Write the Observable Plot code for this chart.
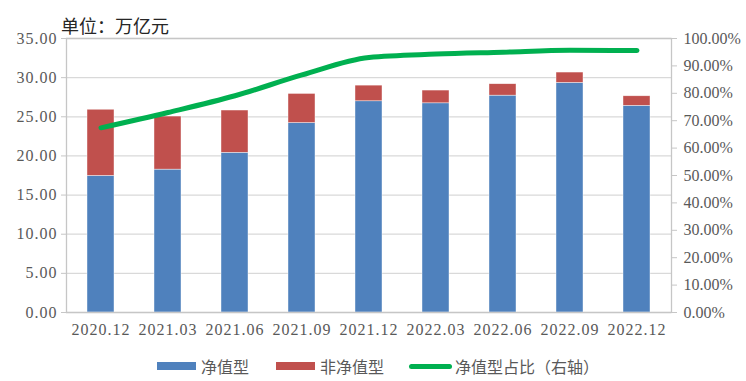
<!DOCTYPE html>
<html><head><meta charset="utf-8">
<script src="https://cdn.jsdelivr.net/npm/d3@7"></script>
<script src="https://cdn.jsdelivr.net/npm/@observablehq/plot@0.6"></script>
<style>
body{margin:0;background:#fff;width:746px;height:381px;overflow:hidden;}
#title{height:26px;box-sizing:border-box;padding-top:16px;padding-left:61px;font-size:18px;line-height:18px;color:#262626;font-family:"Noto Sans CJK SC",sans-serif;white-space:nowrap;}
#legend{position:relative;height:41px;font-family:"Noto Sans CJK SC",sans-serif;font-size:16px;color:#595959;}
#legend .sw{position:absolute;}
#legend .lb{position:absolute;top:16px;line-height:20px;white-space:nowrap;}
</style></head>
<body>
<div id="title">单位：万亿元</div>
<div id="chart"></div>
<div id="legend">
  <div class="sw" style="left:157px;top:22px;width:39px;height:8px;background:#4f81bd"></div>
  <div class="lb" style="left:201px">净值型</div>
  <div class="sw" style="left:276px;top:22px;width:39px;height:8px;background:#c0504d"></div>
  <div class="lb" style="left:320px">非净值型</div>
  <div class="sw" style="left:409px;top:23.5px;width:43px;height:5px;border-radius:3px;background:#00b050"></div>
  <div class="lb" style="left:455px">净值型占比（右轴）</div>
</div>
<script>
const categories = ["2020.12","2021.03","2021.06","2021.09","2021.12","2022.03","2022.06","2022.09","2022.12"];
const netValue = [17.45, 18.25, 20.40, 24.20, 26.98, 26.72, 27.70, 29.33, 26.40];
const nonNetValue = [8.45, 6.78, 5.40, 3.72, 2.00, 1.63, 1.46, 1.32, 1.22];
const netShare = [67.4, 73.0, 79.1, 86.7, 93.1, 94.3, 95.0, 95.7, 95.6];
const seriesNames = ["净值型", "非净值型"];
const leftTicks = [0, 5, 10, 15, 20, 25, 30, 35];
const rightTicks = [0, 10, 20, 30, 40, 50, 60, 70, 80, 90, 100];

const leftMax = 35, rightMax = 100;
const toLeft = p => p * leftMax / rightMax;

const barData = [];
categories.forEach((c, i) => {
  barData.push({cat: c, type: seriesNames[0], value: netValue[i]});
  barData.push({cat: c, type: seriesNames[1], value: nonNetValue[i]});
});
const lineData = categories.map((c, i) => ({cat: c, share: netShare[i]}));

const serifFont = "'Liberation Serif', 'DejaVu Serif', 'Times New Roman', serif";
const chart = Plot.plot({
  width: 746, height: 314,
  marginTop: 12, marginBottom: 28, marginLeft: 66, marginRight: 75,
  style: {fontSize: "16px", color: "#595959", background: "transparent"},
  x: {domain: categories, paddingInner: 0.6, paddingOuter: 0.3, label: null, axis: null},
  y: {domain: [0, leftMax], axis: null, label: null},
  color: {domain: seriesNames, range: ["#4f81bd", "#c0504d"]},
  marks: [
    Plot.gridY(leftTicks, {stroke: "#d9d9d9", strokeOpacity: 1, strokeWidth: 1.3}),
    Plot.barY(barData, {x: "cat", y: "value", fill: "type", stroke: "#ffffff", strokeWidth: 0.6, strokeOpacity: 0.7}),
    Plot.frame({stroke: "#c6c6c6", strokeWidth: 1.3}),
    Plot.line(lineData, {x: "cat", y: d => toLeft(d.share), stroke: "#00b050", strokeWidth: 5, curve: "monotone-x", strokeLinecap: "round", strokeLinejoin: "round"}),
    Plot.axisY(leftTicks, {anchor: "left", tickSize: 5, tickPadding: 4, stroke: "#c6c6c6", fill: "#595959", label: null, fontFamily: serifFont, tickFormat: d => d.toFixed(2)}),
    Plot.axisY(rightTicks.map(toLeft), {anchor: "right", tickSize: 5, tickPadding: 7, stroke: "#c6c6c6", fill: "#595959", label: null, fontFamily: serifFont, tickFormat: d => (d * rightMax / leftMax).toFixed(2) + "%"}),
    Plot.axisX({tickSize: 0, tickPadding: 11, fill: "#595959", label: null, fontFamily: serifFont})
  ]
});
document.getElementById("chart").appendChild(chart);
d3.select(chart).selectAll("text").each(function() {
  this.setAttribute("font-family", serifFont);
  this.style.fontFamily = serifFont;
  if (!this.textContent.includes("%")) this.style.letterSpacing = "1px";
});
</script>
</body></html>
